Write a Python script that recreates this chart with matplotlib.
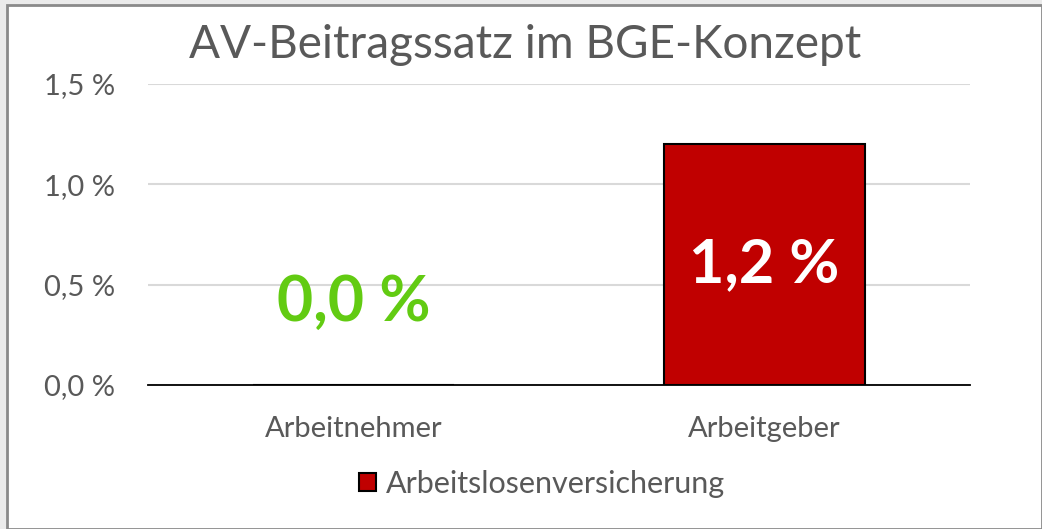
import matplotlib
matplotlib.use("Agg")
import matplotlib.pyplot as plt
from matplotlib.patches import Rectangle
from matplotlib.ticker import FuncFormatter, MultipleLocator

categories = ["Arbeitnehmer", "Arbeitgeber"]
values = [0.0, 1.2]
series_name = "Arbeitslosenversicherung"
title = "AV-Beitragssatz im BGE-Konzept"

plt.rcParams['font.family'] = ['Lato', 'DejaVu Sans']

W, H = 1042, 529
fig = plt.figure(figsize=(W / 100, H / 100), dpi=100)
fig.patch.set_facecolor('#ebebeb')
# white chart area with gray border
fig.patches.append(Rectangle((7 / W, 0), (W - 7) / W, (H - 5) / H, transform=fig.transFigure,
                             facecolor='white', edgecolor='#8a8a8a', linewidth=2.0, zorder=-10))

ax = fig.add_axes([148 / W, 1 - 385 / H, (970 - 148) / W, (385 - 84) / H])
ax.set_facecolor('none')
x = list(range(len(categories)))
bars = ax.bar(x, values, width=0.487, color='#C00000', edgecolor='black', linewidth=1.5,
              label=series_name, zorder=3)
ax.set_xlim(-0.5, 1.5)
ax.set_ylim(0, 1.5)
ax.yaxis.set_major_locator(MultipleLocator(0.5))
ax.yaxis.set_major_formatter(FuncFormatter(lambda v, p: f"{v:.1f} %".replace('.', ',')))
ax.grid(axis='y', color='#d9d9d9', linewidth=1.5, zorder=0)
for s in ['top', 'right', 'left']:
    ax.spines[s].set_visible(False)
ax.spines['bottom'].set_color('#000000')
ax.spines['bottom'].set_linewidth(1.3)
ax.spines['bottom'].set_zorder(4)
ax.tick_params(axis='both', length=0, labelsize=21, colors='#595959')
ax.tick_params(axis='y', pad=24)
ax.set_xticks(x)
ax.set_xticklabels(categories)
ax.tick_params(axis='x', pad=22)

# data labels
for xi, v in zip(x, values):
    txt = f"{v:.1f} %".replace('.', ',')
    if v > 0:
        ax.text(xi, v / 2, txt, ha='center', va='center', color='white',
                fontsize=44, fontweight='bold', zorder=5)
    else:
        ax.annotate(txt, (xi, v), xytext=(0, 59), textcoords='offset points',
                    ha='center', va='center', color='#62cb12', fontsize=45, fontweight='bold', zorder=5)

fig.text(525 / W, 1 - 45 / H, title, ha='center', va='center', fontsize=33, color='#595959')

leg = fig.legend(handles=[bars], labels=[series_name], loc='center', bbox_to_anchor=(542 / W, 1 - 484 / H),
                 frameon=False, fontsize=22, handlelength=0.55, handleheight=0.55, handletextpad=0.3,
                 labelcolor='#595959')

fig.savefig('out.png', dpi=100, facecolor=fig.get_facecolor())
